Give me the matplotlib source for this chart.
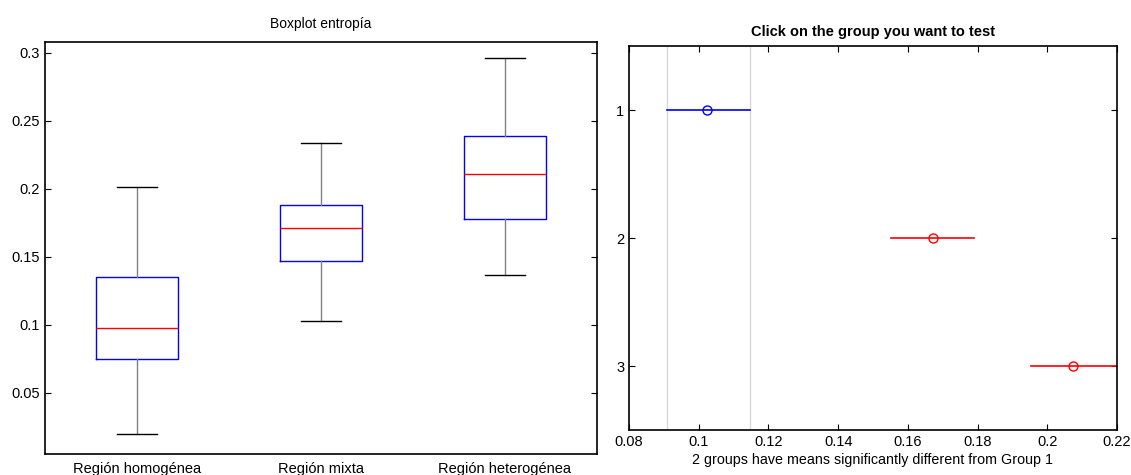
import matplotlib
matplotlib.use("Agg")
import matplotlib.pyplot as plt
from matplotlib.ticker import FormatStrFormatter

plt.rcParams['font.family'] = ['Liberation Sans', 'DejaVu Sans']

# datos del boxplot
regiones = ['Región homogénea', 'Región mixta', 'Región heterogénea']
whis_lo = [0.020, 0.103, 0.137]
q1 = [0.075, 0.147, 0.178]
mediana = [0.098, 0.171, 0.211]
q3 = [0.135, 0.188, 0.239]
whis_hi = [0.201, 0.234, 0.296]

# multcompare: medias e intervalos
grupos = [1, 2, 3]
medias = [0.1025, 0.1672, 0.2075]
ic_lo = [0.0908, 0.1551, 0.1954]
ic_hi = [0.1148, 0.1791, 0.2196]
colores = ['blue', 'red', 'red']

fig = plt.figure(figsize=(11.31, 4.75), dpi=100)

# ---- boxplot ----
ax1 = fig.add_axes([45/1131, 21/475, 552/1131, 412/475])
stats = []
for i in range(len(regiones)):
    stats.append(dict(med=mediana[i], q1=q1[i], q3=q3[i],
                      whislo=whis_lo[i], whishi=whis_hi[i], fliers=[]))
ax1.bxp(stats, positions=[1, 2, 3], widths=0.45, showfliers=False,
        boxprops=dict(color='blue', linewidth=1),
        medianprops=dict(color='red', linewidth=1),
        whiskerprops=dict(color='#808080', linewidth=1),
        capprops=dict(color='black', linewidth=1),
        capwidths=0.22)
ax1.set_xlim(0.5, 3.5)
ax1.set_ylim(0.005, 0.308)
ax1.set_yticks([0.05, 0.1, 0.15, 0.2, 0.25, 0.3])
ax1.yaxis.set_major_formatter(FormatStrFormatter('%g'))
ax1.set_xticks([1, 2, 3])
ax1.set_xticklabels(regiones)
ax1.tick_params(axis='x', length=0, pad=6, labelsize=10.5)
ax1.tick_params(axis='y', direction='in', length=4, right=True, labelsize=10.5)
ax1.set_title('Boxplot entropía', fontsize=10, pad=10)
for s in ax1.spines.values():
    s.set_linewidth(1.2)

# ---- multcompare ----
ax2 = fig.add_axes([629/1131, 45/475, 488/1131, 384/475])
ax2.axvline(ic_lo[0], color='#d9d9d9', linewidth=1)
ax2.axvline(ic_hi[0], color='#d9d9d9', linewidth=1)
for i in range(len(grupos)):
    ax2.plot([ic_lo[i], ic_hi[i]], [grupos[i], grupos[i]], color=colores[i], linewidth=1.2)
    ax2.plot(medias[i], grupos[i], 'o', markersize=6.5, markerfacecolor='none',
             markeredgecolor=colores[i], markeredgewidth=1)
ax2.set_xlim(0.08, 0.22)
ax2.set_ylim(3.5, 0.5)
ax2.set_xticks([0.08, 0.1, 0.12, 0.14, 0.16, 0.18, 0.2, 0.22])
ax2.xaxis.set_major_formatter(FormatStrFormatter('%g'))
ax2.set_yticks(grupos)
ax2.tick_params(direction='in', length=4, top=True, right=True, labelsize=10.5)
ax2.set_title('Click on the group you want to test', fontsize=10.5, fontweight='bold', pad=7)
ax2.set_xlabel('2 groups have means significantly different from Group 1', fontsize=10.3, labelpad=3)
for s in ax2.spines.values():
    s.set_linewidth(1.2)

fig.savefig('out.png', dpi=100)
